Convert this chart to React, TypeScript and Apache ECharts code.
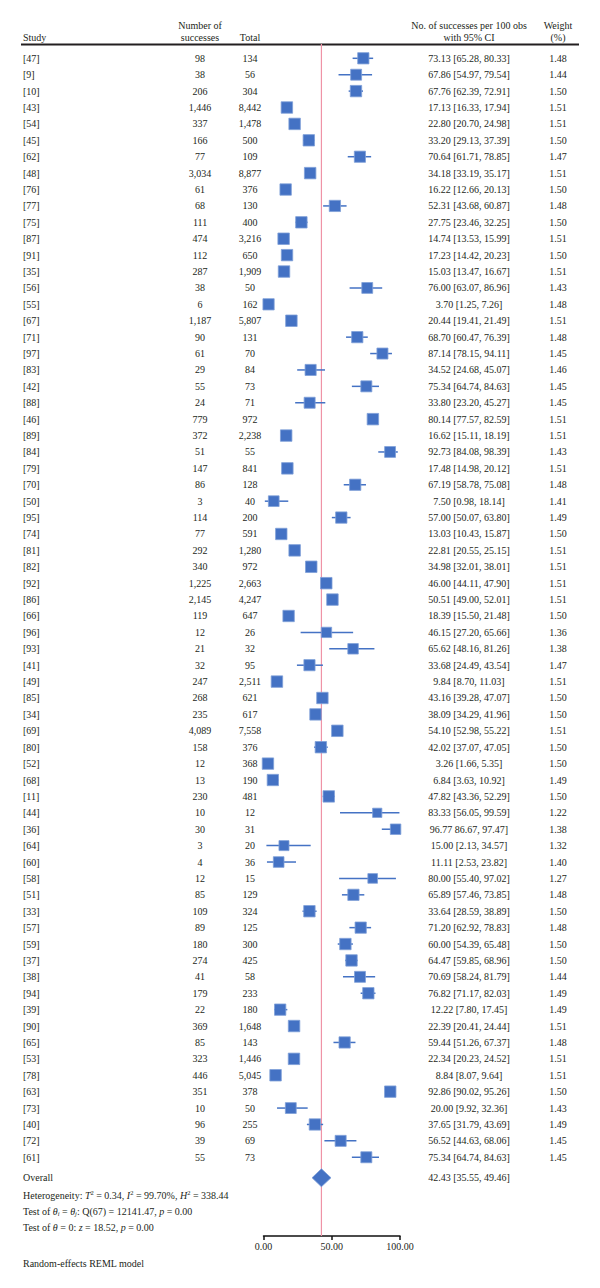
import React, { useEffect, useRef } from "react";
import * as echarts from "echarts";

// Study-level data
const studies = [
  "[47]", "[9]", "[10]", "[43]", "[54]", "[45]", "[62]", "[48]", "[76]", "[77]",
  "[75]", "[87]", "[91]", "[35]", "[56]", "[55]", "[67]", "[71]", "[97]", "[83]",
  "[42]", "[88]", "[46]", "[89]", "[84]", "[79]", "[70]", "[50]", "[95]", "[74]",
  "[81]", "[82]", "[92]", "[86]", "[66]", "[96]", "[93]", "[41]", "[49]", "[85]",
  "[34]", "[69]", "[80]", "[52]", "[68]", "[11]", "[44]", "[36]", "[64]", "[60]",
  "[58]", "[51]", "[33]", "[57]", "[59]", "[37]", "[38]", "[94]", "[39]", "[90]",
  "[65]", "[53]", "[78]", "[63]", "[73]", "[40]", "[72]", "[61]",
];
const successes = [
  98, 38, 206, 1446, 337, 166, 77, 3034, 61, 68,
  111, 474, 112, 287, 38, 6, 1187, 90, 61, 29,
  55, 24, 779, 372, 51, 147, 86, 3, 114, 77,
  292, 340, 1225, 2145, 119, 12, 21, 32, 247, 268,
  235, 4089, 158, 12, 13, 230, 10, 30, 3, 4,
  12, 85, 109, 89, 180, 274, 41, 179, 22, 369,
  85, 323, 446, 351, 10, 96, 39, 55,
];
const totals = [
  134, 56, 304, 8442, 1478, 500, 109, 8877, 376, 130,
  400, 3216, 650, 1909, 50, 162, 5807, 131, 70, 84,
  73, 71, 972, 2238, 55, 841, 128, 40, 200, 591,
  1280, 972, 2663, 4247, 647, 26, 32, 95, 2511, 621,
  617, 7558, 376, 368, 190, 481, 12, 31, 20, 36,
  15, 129, 324, 125, 300, 425, 58, 233, 180, 1648,
  143, 1446, 5045, 378, 50, 255, 69, 73,
];
const estimates = [
  73.13, 67.86, 67.76, 17.13, 22.8, 33.2, 70.64, 34.18, 16.22, 52.31,
  27.75, 14.74, 17.23, 15.03, 76.0, 3.7, 20.44, 68.7, 87.14, 34.52,
  75.34, 33.8, 80.14, 16.62, 92.73, 17.48, 67.19, 7.5, 57.0, 13.03,
  22.81, 34.98, 46.0, 50.51, 18.39, 46.15, 65.62, 33.68, 9.84, 43.16,
  38.09, 54.1, 42.02, 3.26, 6.84, 47.82, 83.33, 96.77, 15.0, 11.11,
  80.0, 65.89, 33.64, 71.2, 60.0, 64.47, 70.69, 76.82, 12.22, 22.39,
  59.44, 22.34, 8.84, 92.86, 20.0, 37.65, 56.52, 75.34,
];
const lower = [
  65.28, 54.97, 62.39, 16.33, 20.7, 29.13, 61.71, 33.19, 12.66, 43.68,
  23.46, 13.53, 14.42, 13.47, 63.07, 1.25, 19.41, 60.47, 78.15, 24.68,
  64.74, 23.2, 77.57, 15.11, 84.08, 14.98, 58.78, 0.98, 50.07, 10.43,
  20.55, 32.01, 44.11, 49.0, 15.5, 27.2, 48.16, 24.49, 8.7, 39.28,
  34.29, 52.98, 37.07, 1.66, 3.63, 43.36, 56.05, 86.67, 2.13, 2.53,
  55.4, 57.46, 28.59, 62.92, 54.39, 59.85, 58.24, 71.17, 7.8, 20.41,
  51.26, 20.23, 8.07, 90.02, 9.92, 31.79, 44.63, 64.74,
];
const upper = [
  80.33, 79.54, 72.91, 17.94, 24.98, 37.39, 78.85, 35.17, 20.13, 60.87,
  32.25, 15.99, 20.23, 16.67, 86.96, 7.26, 21.49, 76.39, 94.11, 45.07,
  84.63, 45.27, 82.59, 18.19, 98.39, 20.12, 75.08, 18.14, 63.8, 15.87,
  25.15, 38.01, 47.9, 52.01, 21.48, 65.66, 81.26, 43.54, 11.03, 47.07,
  41.96, 55.22, 47.05, 5.35, 10.92, 52.29, 99.59, 97.47, 34.57, 23.82,
  97.02, 73.85, 38.89, 78.83, 65.48, 68.96, 81.79, 82.03, 17.45, 24.44,
  67.37, 24.52, 9.64, 95.26, 32.36, 43.69, 68.06, 84.63,
];
const weights = [
  1.48, 1.44, 1.5, 1.51, 1.51, 1.5, 1.47, 1.51, 1.5, 1.48,
  1.5, 1.51, 1.5, 1.51, 1.43, 1.48, 1.51, 1.48, 1.45, 1.46,
  1.45, 1.45, 1.51, 1.51, 1.43, 1.51, 1.48, 1.41, 1.49, 1.5,
  1.51, 1.51, 1.51, 1.51, 1.5, 1.36, 1.38, 1.47, 1.51, 1.5,
  1.5, 1.51, 1.5, 1.5, 1.49, 1.5, 1.22, 1.38, 1.32, 1.4,
  1.27, 1.48, 1.5, 1.48, 1.5, 1.5, 1.44, 1.49, 1.49, 1.51,
  1.48, 1.51, 1.51, 1.5, 1.43, 1.49, 1.45, 1.45,
];

// Pooled estimate (random-effects REML)
const overall = { est: 42.43, lo: 35.55, hi: 49.46 };

// Axis ticks
const xTicks = [0, 50, 100];

// Studies whose printed interval lacks the opening bracket
const noOpenBracket = new Set(["[36]"]);

const FONT = "'Liberation Serif', 'Times New Roman', serif";
const INK = "#231f20";
const BLUE = "#4472C4";
const REF = "#ef93a6";

const fmtInt = (v: number) => v.toLocaleString("en-US");
const fmt2 = (v: number) => v.toFixed(2);
const ciLabel = (i: number) =>
  `${fmt2(estimates[i])} ${noOpenBracket.has(studies[i]) ? "" : "["}${fmt2(lower[i])}, ${fmt2(upper[i])}]`;

// Layout (pixels)
const COL_STUDY = 23;
const COL_SUCC = 200;
const COL_TOTAL = 250;
const COL_CI = 469;
const COL_WEIGHT = 558;
const OVERALL_ROW = 68.25;

const txt = (text: string, x: number, y: number, align = "center") => ({
  type: "text",
  x,
  y,
  style: {
    text,
    fill: INK,
    fontSize: 10,
    fontFamily: FONT,
    align,
    verticalAlign: "middle",
  },
});

export default function App() {
  const ref = useRef<HTMLDivElement>(null);

  useEffect(() => {
    if (!ref.current) return;
    const chart = echarts.init(ref.current, undefined, { renderer: "svg" });

    const rich = {
      n: { fontSize: 10, fontFamily: FONT, lineHeight: 12, color: INK },
      it: { fontSize: 10, fontFamily: FONT, fontStyle: "italic", lineHeight: 12, color: INK },
      sup: { fontSize: 6.5, fontFamily: FONT, lineHeight: 6, verticalAlign: "top", color: INK },
      sub: { fontSize: 6.5, fontFamily: FONT, fontStyle: "italic", lineHeight: 6, verticalAlign: "bottom", color: INK },
    };
    const richText = (text: string, y: number) => ({
      type: "text",
      left: COL_STUDY,
      top: y - 6,
      style: { text, rich, fill: INK, fontSize: 10, fontFamily: FONT },
    });

    const option: any = {
      animation: false,
      backgroundColor: "#ffffff",
      grid: { left: 263.5, right: 200, top: 44, bottom: 52 },
      xAxis: {
        type: "value",
        position: "bottom",
        min: xTicks[0],
        max: xTicks[xTicks.length - 1],
        interval: xTicks[1] - xTicks[0],
        splitLine: { show: false },
        axisLine: { show: true, onZero: false, lineStyle: { color: "#111", width: 1.5 } },
        axisTick: { show: true, length: 4, lineStyle: { color: "#111", width: 1.5 } },
        axisLabel: {
          formatter: (v: number) => v.toFixed(2),
          fontSize: 10,
          fontFamily: FONT,
          color: INK,
          margin: 5,
          showMinLabel: true,
          showMaxLabel: true,
        },
      },
      yAxis: {
        type: "value",
        inverse: true,
        min: -0.872,
        max: 71.8,
        show: false,
      },
      graphic: [
        txt("Study", COL_STUDY, 37, "left"),
        txt("Number of", COL_SUCC, 25),
        txt("successes", COL_SUCC, 37),
        txt("Total", COL_TOTAL, 37),
        txt("No. of successes per 100 obs", COL_CI, 25),
        txt("with 95% CI", COL_CI, 37),
        txt("Weight", COL_WEIGHT, 25),
        txt("(%)", COL_WEIGHT, 37),
        {
          type: "line",
          shape: { x1: 21, y1: 44.5, x2: 579, y2: 44.5 },
          style: { stroke: INK, lineWidth: 2 },
        },
        richText(
          "{n|Heterogeneity: }{it|T}{sup|2}{n| = 0.34, }{it|I}{sup|2}{n| = 99.70%, }{it|H}{sup|2}{n| = 338.44}",
          1195
        ),
        richText(
          "{n|Test of }{it|θ}{sub|i}{n| = }{it|θ}{sub|j}{n|: Q(67) = 12141.47, }{it|p}{n| = 0.00}",
          1212
        ),
        richText("{n|Test of }{it|θ}{n| = 0: }{it|z}{n| = 18.52, }{it|p}{n| = 0.00}", 1228),
        txt("Random-effects REML model", COL_STUDY, 1263, "left"),
      ],
      series: [
        {
          // vertical reference line at the pooled estimate, spanning the plot height
          type: "custom",
          clip: false,
          silent: true,
          data: [[overall.est, 0]],
          encode: { x: 0, y: 1 },
          z: 1,
          renderItem: (params: any, api: any) => {
            const cs = params.coordSys;
            const x = api.coord([api.value(0), 0])[0];
            return {
              type: "line",
              shape: { x1: x, y1: cs.y, x2: x, y2: cs.y + cs.height },
              style: { stroke: REF, lineWidth: 1.2 },
            };
          },
        },
        {
          // table columns
          type: "custom",
          clip: false,
          silent: true,
          data: studies.map((_, i) => [0, i]),
          encode: { x: 0, y: 1 },
          renderItem: (params: any, api: any) => {
            const i = params.dataIndex;
            const y = api.coord([0, api.value(1)])[1];
            return {
              type: "group",
              children: [
                txt(studies[i], COL_STUDY, y, "left"),
                txt(fmtInt(successes[i]), COL_SUCC, y),
                txt(fmtInt(totals[i]), COL_TOTAL, y),
                txt(ciLabel(i), COL_CI, y),
                txt(fmt2(weights[i]), COL_WEIGHT, y),
              ],
            };
          },
        },
        {
          // confidence intervals and weighted squares
          type: "custom",
          clip: false,
          silent: true,
          z: 3,
          data: studies.map((_, i) => [estimates[i], i, lower[i], upper[i], weights[i]]),
          encode: { x: [0, 2, 3], y: 1 },
          renderItem: (params: any, api: any) => {
            const row = api.value(1);
            const pEst = api.coord([api.value(0), row]);
            const pLo = api.coord([api.value(2), row]);
            const pHi = api.coord([api.value(3), row]);
            const s = api.value(4) * 7.6;
            return {
              type: "group",
              children: [
                {
                  type: "line",
                  shape: { x1: pLo[0], y1: pEst[1], x2: pHi[0], y2: pEst[1] },
                  style: { stroke: BLUE, lineWidth: 1.5 },
                },
                {
                  type: "rect",
                  shape: { x: pEst[0] - s / 2, y: pEst[1] - s / 2, width: s, height: s },
                  style: { fill: BLUE, stroke: "#7f9fd8", lineWidth: 0.8 },
                },
              ],
            };
          },
        },
        {
          // pooled estimate diamond
          type: "custom",
          clip: false,
          silent: true,
          z: 3,
          data: [[overall.est, OVERALL_ROW, overall.lo, overall.hi]],
          encode: { x: [0, 2, 3], y: 1 },
          renderItem: (params: any, api: any) => {
            const row = api.value(1);
            const pEst = api.coord([api.value(0), row]);
            const pLo = api.coord([api.value(2), row]);
            const pHi = api.coord([api.value(3), row]);
            const h = 9;
            return {
              type: "group",
              children: [
                {
                  type: "polygon",
                  shape: {
                    points: [
                      [pLo[0], pEst[1]],
                      [pEst[0], pEst[1] - h],
                      [pHi[0], pEst[1]],
                      [pEst[0], pEst[1] + h],
                    ],
                  },
                  style: { fill: BLUE, stroke: "#7f9fd8", lineWidth: 0.8 },
                },
                txt("Overall", COL_STUDY, pEst[1], "left"),
                txt(
                  `${fmt2(overall.est)} [${fmt2(overall.lo)}, ${fmt2(overall.hi)}]`,
                  COL_CI,
                  pEst[1]
                ),
              ],
            };
          },
        },
      ],
    };

    chart.setOption(option);
    return () => chart.dispose();
  }, []);

  return (
    <div
      ref={ref}
      style={{ position: "absolute", left: 0, top: 0, width: 600, height: 1288, background: "#fff" }}
    />
  );
}
